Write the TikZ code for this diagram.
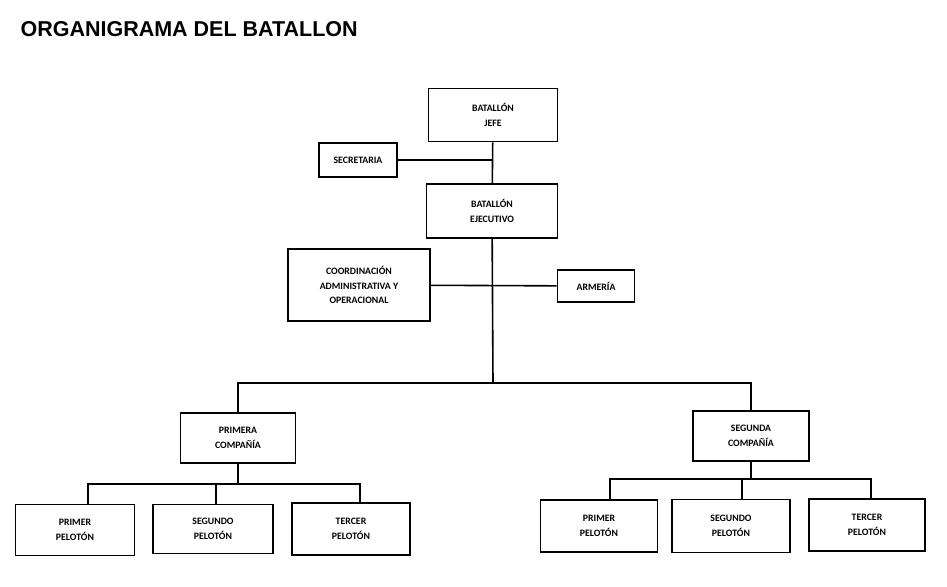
\documentclass[tikz,border=0pt]{standalone}
\usepackage{fontspec}
\setmainfont{Carlito}
\newfontfamily\titlefont{Liberation Sans}
\usetikzlibrary{positioning}

\tikzset{
    unit/.style={draw, line width=1.6pt, align=center, inner sep=0pt,
        font=\bfseries\fontsize{9.8}{14.5}\selectfont},
    link/.style={line width=1.6pt}
}

\begin{document}
\begin{tikzpicture}[x=1pt, y=-1pt]
    \useasboundingbox[fill=white] (0,0) rectangle (947,586);
    \node[anchor=west, font=\titlefont\bfseries\fontsize{21.5}{23}\selectfont] (titulo) at (17,29) {ORGANIGRAMA DEL BATALLON};

    % mando del batallon
    \node[unit, minimum width=129pt, minimum height=53pt] (jefe) at (493,115) {BATALLÓN\\JEFE};
    \node[unit, minimum width=78pt, minimum height=34pt] (secretaria) at (358,160) {SECRETARIA};
    \node[unit, minimum width=131pt, minimum height=54pt] (ejecutivo) at (492,211) {BATALLÓN\\EJECUTIVO};
    \node[unit, minimum width=142pt, minimum height=72pt] (coord) at (359,285) {COORDINACIÓN\\ADMINISTRATIVA Y\\OPERACIONAL};
    \node[unit, minimum width=77pt, minimum height=32pt] (armeria) at (596,286) {ARMERÍA};

    % companias
    \node[unit, minimum width=115pt, minimum height=50pt] (primera) at (238,438) {PRIMERA\\COMPAÑÍA};
    \node[unit, minimum width=116pt, minimum height=50pt] (segunda) at (751,436) {SEGUNDA\\COMPAÑÍA};

    % pelotones primera compania
    \node[unit, minimum width=119pt, minimum height=51pt] (pA1) at (75,530) {PRIMER\\PELOTÓN};
    \node[unit, minimum width=120pt, minimum height=49pt] (pA2) at (213,529) {SEGUNDO\\PELOTÓN};
    \node[unit, minimum width=118pt, minimum height=52pt] (pA3) at (351,529) {TERCER\\PELOTÓN};

    % pelotones segunda compania
    \node[unit, minimum width=117pt, minimum height=52pt] (pB1) at (599,526) {PRIMER\\PELOTÓN};
    \node[unit, minimum width=118pt, minimum height=53pt] (pB2) at (731,526) {SEGUNDO\\PELOTÓN};
    \node[unit, minimum width=116pt, minimum height=52pt] (pB3) at (867,525) {TERCER\\PELOTÓN};

    \coordinate (bus) at (493,383);
    \coordinate (busA) at (238,484);
    \coordinate (busB) at (742,479);

    % lineas
    \draw[link] (jefe) -- (ejecutivo);
    \draw[link] (secretaria) -- (secretaria -| jefe);
    \draw[link] (coord) -- (armeria);
    \draw[link] (ejecutivo) -- (bus);
    \draw[link] (primera.north) |- (bus) -| (segunda.north);
    \draw[link] (primera.south) -- (busA);
    \draw[link] ([xshift=13pt]pA1.north) |- (busA) -| ([xshift=9pt]pA3.north);
    \draw[link] ([xshift=3pt]pA2.north) -- ([xshift=3pt]pA2.north |- busA);
    \draw[link] (segunda.south) -- (segunda.south |- busB);
    \draw[link] ([xshift=11pt]pB1.north) |- (busB) -| ([xshift=4pt]pB3.north);
    \draw[link] ([xshift=11pt]pB2.north) -- (busB);
\end{tikzpicture}
\end{document}
